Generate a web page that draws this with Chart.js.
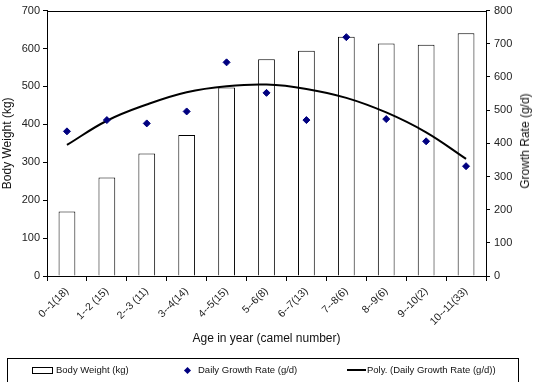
<!DOCTYPE html>
<html>
<head>
<meta charset="utf-8">
<script src="https://cdn.jsdelivr.net/npm/chart.js@4.4.1/dist/chart.umd.min.js"></script>
<style>
  body { margin: 0; background: #fff; }
  #wrap { position: relative; width: 533px; height: 382px; overflow: hidden; }
  #legenda {
    position: absolute; left: 7px; top: 358px; width: 512px; height: 40px;
    border: 1px solid #000; box-sizing: border-box;
    font-family: "Liberation Sans", Arial, sans-serif; font-size: 9.5px; color: #111;
  }
  .item { position: absolute; top: 5px; white-space: nowrap; }
  .caixa { display: inline-block; width: 19px; height: 5px; border: 1px solid #000; vertical-align: middle; margin-right: 3px; }
  .losango { display: inline-block; width: 5px; height: 5px; background: #000080; transform: rotate(45deg); vertical-align: middle; margin-right: 8px; }
  .linha { display: inline-block; width: 19px; height: 2px; background: #000; vertical-align: middle; margin-right: 1px; }
  #tituloDireita {
    position: absolute; left: 525px; top: 141px; transform: translate(-50%, -50%) rotate(-90deg);
    white-space: nowrap; font-family: "Liberation Sans", Arial, sans-serif; font-size: 12px; color: #111;
  }
</style>
</head>
<body>
<div id="wrap">
  <canvas id="grafico" width="533" height="382"></canvas>
  <div id="tituloDireita">Growth Rate (g/d)</div>
  <div id="legenda">
    <span class="item" style="left:24px"><i class="caixa"></i>Body Weight (kg)</span>
    <span class="item" style="left:177px"><i class="losango"></i>Daily Growth Rate (g/d)</span>
    <span class="item" style="left:339px"><i class="linha"></i>Poly. (Daily Growth Rate (g/d))</span>
  </div>
</div>
<script>
const categorias = ['0--1(18)', '1--2 (15)', '2--3 (11)', '3--4(14)', '4--5(15)', '5--6(8)', '6--7(13)', '7--8(6)', '8--9(6)', '9--10(2)', '10--11(33)'];
const pesoCorporal = [170, 260, 323, 372, 497, 572, 594, 631, 613, 610, 640];
const taxaCrescimento = [436, 470, 460, 496, 644, 552, 470, 720, 473, 406, 331];
const tendencia = [395, 468, 517, 554, 572, 577, 564, 537, 493, 433, 353];

const fonte = { family: '"Liberation Sans", Arial, sans-serif' };

const moldura = {
    id: 'moldura',
    afterDraw(chart) {
        const a = chart.chartArea;
        const ctx = chart.ctx;
        ctx.save();
        ctx.strokeStyle = '#000';
        ctx.lineWidth = 1;
        ctx.strokeRect(Math.round(a.left) + 0.5, Math.round(a.top) + 0.5, Math.round(a.right - a.left), Math.round(a.bottom - a.top));
        ctx.restore();
    }
};

new Chart(document.getElementById('grafico').getContext('2d'), {
    data: {
        labels: categorias,
        datasets: [
            {
                type: 'line',
                label: 'Poly. (Daily Growth Rate (g/d))',
                data: tendencia,
                yAxisID: 'y2',
                borderColor: '#000',
                borderWidth: 2,
                pointRadius: 0,
                tension: 0.4,
                fill: false,
                order: 1
            },
            {
                type: 'line',
                label: 'Daily Growth Rate (g/d)',
                data: taxaCrescimento,
                yAxisID: 'y2',
                showLine: false,
                pointStyle: 'rectRot',
                pointRadius: 3.5,
                pointBackgroundColor: '#000080',
                pointBorderColor: '#000080',
                order: 0
            },
            {
                type: 'bar',
                label: 'Body Weight (kg)',
                data: pesoCorporal,
                yAxisID: 'y',
                backgroundColor: '#fff',
                borderColor: '#000',
                borderWidth: 1,
                categoryPercentage: 1,
                barPercentage: 0.42,
                order: 2
            }
        ]
    },
    options: {
        responsive: false,
        animation: false,
        layout: { padding: { top: 7, bottom: 32, left: 0, right: 0 } },
        plugins: { legend: { display: false }, tooltip: { enabled: false } },
        scales: {
            x: {
                offset: true,
                grid: { offset: true, drawOnChartArea: false, drawTicks: true, tickLength: 5, color: '#000' },
                border: { color: '#000' },
                ticks: { minRotation: 45, maxRotation: 45, color: '#222', padding: 4, font: { ...fonte, size: 10.5 } },
                title: { display: true, text: 'Age in year (camel number)', color: '#111', font: { ...fonte, size: 12 }, padding: { top: 0, bottom: 4 } },
                afterFit(s) { s.height = 74; }
            },
            y: {
                position: 'left',
                min: 0, max: 700,
                ticks: { stepSize: 100, color: '#222', padding: 3, font: { ...fonte, size: 11 } },
                grid: { drawOnChartArea: false, tickLength: 4, color: '#000' },
                border: { color: '#000' },
                title: { display: true, text: 'Body Weight (kg)', color: '#111', font: { ...fonte, size: 12 }, padding: 0 },
                afterFit(s) { s.width = 47; }
            },
            y2: {
                position: 'right',
                min: 0, max: 800,
                ticks: { stepSize: 100, color: '#222', padding: 4, font: { ...fonte, size: 11 } },
                grid: { drawOnChartArea: false, tickLength: 4, color: '#000' },
                border: { color: '#000' },
                afterFit(s) { s.width = 47; }
            }
        }
    },
    plugins: [moldura]
});
</script>
</body>
</html>
